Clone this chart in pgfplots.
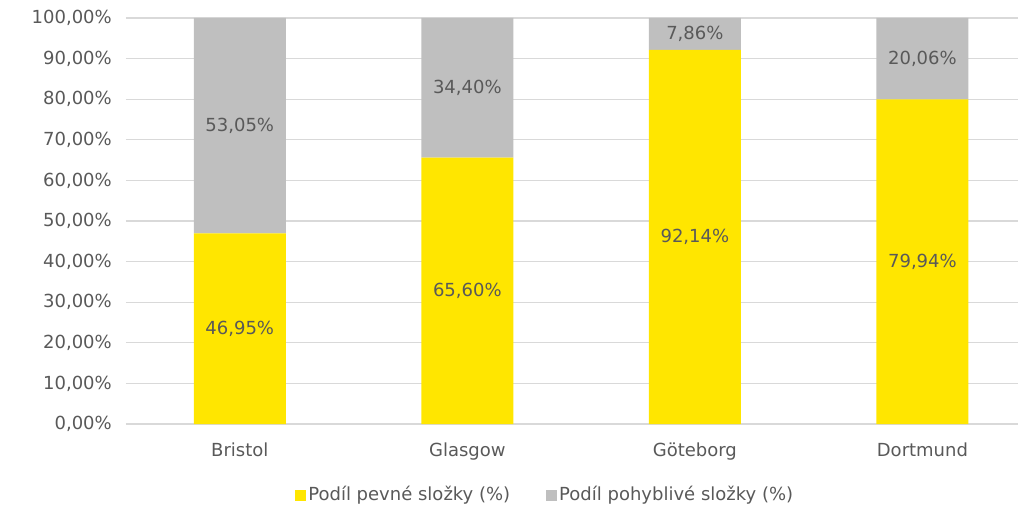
\documentclass[border=0pt]{standalone}
\usepackage{pgfplots}
\pgfplotsset{compat=1.18}
\usepackage{fontspec}
\setmainfont{DejaVu Sans}
\definecolor{eyyellow}{HTML}{FFE600}
\definecolor{eygrey}{HTML}{BFBFBF}
\definecolor{txtgrey}{HTML}{595959}
\definecolor{gridgrey}{HTML}{D9D9D9}
\pgfplotsset{
  base/.style={
    scale only axis,
    width=892bp, height=406bp,
    ymin=0, ymax=100,
    xmin=-0.5, xmax=3.42,
    /pgf/number format/assume math mode=true,
  }
}
\begin{document}
\fontsize{18bp}{21bp}\selectfont
\begin{tikzpicture}
\begin{axis}[
  base,
  name=ax,
  ybar stacked,
  bar width=92bp,
  xtick=data,
  xticklabels={Bristol, Glasgow, Göteborg, Dortmund},
  ytick={0,10,...,100},
  yticklabel={\pgfmathprintnumber[fixed,fixed zerofill,precision=2,use comma]{\tick}\%},
  ymajorgrids,
  grid style={gridgrey, line width=1.2bp},
  axis x line*=bottom,
  axis y line*=left,
  x axis line style={draw=gridgrey, line width=1.2bp, -},
  y axis line style={draw=none},
  major tick length=0pt,
  tick style={draw=none},
  ticklabel style={text=txtgrey},
  yticklabel style={xshift=-8bp},
  xticklabel style={yshift=-13bp},
  legend style={draw=none, at={(0.47,-0.175)}, anchor=center, legend columns=2,
    /tikz/every even column/.append style={column sep=34bp}, text=txtgrey,
    nodes={inner sep=2bp}},
  legend image code/.code={\fill[#1] (-3bp,-5.5bp) rectangle (8bp,5.5bp);},
]
\addplot[fill=eyyellow, draw=none] coordinates {(0,46.95) (1,65.60) (2,92.14) (3,79.94)};
\addplot[fill=eygrey, draw=none] coordinates {(0,53.05) (1,34.40) (2,7.86) (3,20.06)};
\legend{Podíl pevné složky (\%), Podíl pohyblivé složky (\%)}
\end{axis}
% value labels, centred in each segment
\begin{axis}[
  base,
  hide axis,
  nodes near coords,
  point meta=explicit symbolic,
  every node near coord/.append style={text=txtgrey, anchor=center},
]
\addplot[draw=none, mark=none] coordinates {
  (0,23.475)[46,95\%] (1,32.80)[65,60\%] (2,46.07)[92,14\%] (3,39.97)[79,94\%]};
\addplot[draw=none, mark=none] coordinates {
  (0,73.475)[53,05\%] (1,82.80)[34,40\%] (2,96.07)[7,86\%] (3,89.97)[20,06\%]};
\end{axis}
\pgfresetboundingbox
\path[use as bounding box] ([shift={(-126bp,-106bp)}]ax.south west) rectangle ([shift={(898bp,424bp)}]ax.south west);
\end{tikzpicture}
\end{document}
